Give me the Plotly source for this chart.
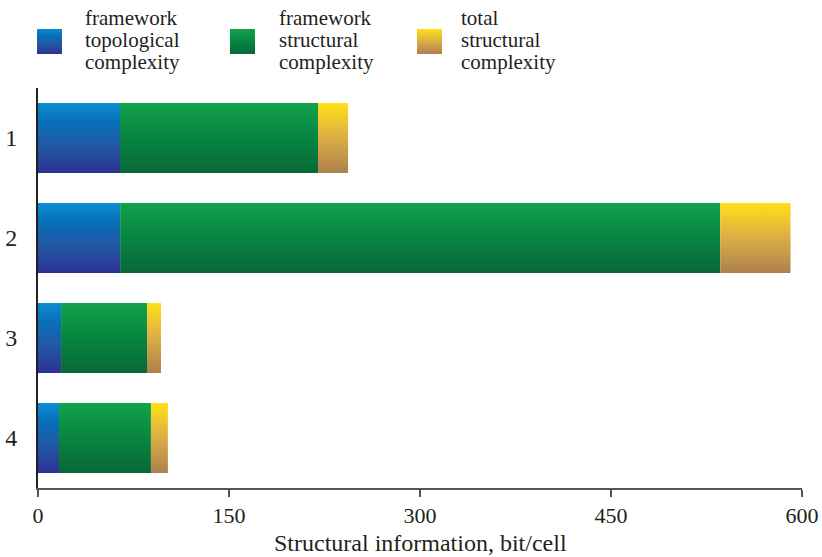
import plotly.graph_objects as go

# Sample labels (top to bottom) and cumulative bar ends, bit/cell
samples = ["1", "2", "3", "4"]
topological = [64.4, 64.5, 18.1, 16.5]
framework_structural = [219.9, 535.8, 85.6, 88.7]
total_structural = [243.5, 591.0, 96.6, 102.0]

x_ticks = [0, 150, 300, 450, 600]
legend_labels = [
    ["framework", "topological", "complexity"],
    ["framework", "structural", "complexity"],
    ["total", "structural", "complexity"],
]

W, H = 822, 557
FONT = "Liberation Serif"
TEXT = "#231f20"

# vertical gradients (top colour -> bottom colour)
grad_blue = [[0, "#0c8dd2"], [0.25, "#0671b9"], [0.6, "#2159a6"], [1, "#2e3192"]]
grad_green = [[0, "#12a24b"], [0.55, "#078240"], [1, "#086838"]]
grad_gold = [[0, "#ffe116"], [0.45, "#dfb243"], [1, "#ae804e"]]
gradients = [grad_blue, grad_green, grad_gold]

# plot area in pixels
px_left, px_right, px_top, px_bottom = 38, 802, 88, 488
bar_half = 0.35

fig = go.Figure()

for i in range(len(samples)):
    starts = [0, topological[i], framework_structural[i]]
    ends = [topological[i], framework_structural[i], total_structural[i]]
    for k in range(3):
        x0, x1 = starts[k], ends[k]
        y0, y1 = i - bar_half, i + bar_half
        fig.add_trace(go.Scatter(
            x=[x0, x1, x1, x0, x0], y=[y0, y0, y1, y1, y0],
            mode="lines", line=dict(width=0), fill="toself",
            fillgradient=dict(type="vertical", colorscale=gradients[k],
                              start=y0, stop=y1),
            hoverinfo="skip", showlegend=False, xaxis="x", yaxis="y",
        ))

# legend swatches, drawn on a pixel-space overlay axis
swatch_x = [37, 230, 417]
text_x = [83, 277, 459]
sw_top, sw_bot, sw_w = 29, 54, 25
for k in range(3):
    x0 = swatch_x[k]
    x1 = x0 + sw_w
    fig.add_trace(go.Scatter(
        x=[x0, x1, x1, x0, x0], y=[sw_top, sw_top, sw_bot, sw_bot, sw_top],
        mode="lines", line=dict(width=0), fill="toself",
        fillgradient=dict(type="vertical", colorscale=gradients[k],
                          start=sw_top, stop=sw_bot),
        hoverinfo="skip", showlegend=False, xaxis="x2", yaxis="y2",
    ))

annotations = []
line_y = [18, 40, 62]
for k in range(3):
    for j, txt in enumerate(legend_labels[k]):
        annotations.append(dict(
            text=txt, xref="paper", yref="paper",
            x=text_x[k] / W, y=1 - line_y[j] / H,
            xanchor="left", yanchor="middle", showarrow=False,
            font=dict(family=FONT, size=21, color=TEXT),
        ))

annotations.append(dict(
    text="Structural information, bit/cell", xref="paper", yref="paper",
    x=(px_left + px_right) / 2 / W, y=0,
    xanchor="center", yanchor="bottom", showarrow=False, borderpad=0,
    font=dict(family=FONT, size=24, color=TEXT),
))

fig.update_layout(
    width=W, height=H,
    margin=dict(l=0, r=0, t=0, b=0),
    paper_bgcolor="white", plot_bgcolor="rgba(0,0,0,0)",
    showlegend=False,
    annotations=annotations,
    xaxis=dict(
        domain=[px_left / W, px_right / W], anchor="y",
        range=[0, 600], tickvals=x_ticks, ticktext=[str(v) for v in x_ticks],
        showgrid=False, zeroline=False,
        showline=True, linecolor="#555555", linewidth=2,
        ticks="outside", ticklen=7, tickwidth=1.5, tickcolor="#555555",
        tickfont=dict(family=FONT, size=22, color=TEXT),
        automargin=False, fixedrange=True,
    ),
    yaxis=dict(
        domain=[1 - px_bottom / H, 1 - px_top / H], anchor="x",
        range=[len(samples) - 0.5, -0.5],
        tickvals=list(range(len(samples))), ticktext=samples,
        showgrid=False, zeroline=False,
        showline=True, linecolor="#231f20", linewidth=2,
        ticks="", ticklabelstandoff=14,
        tickfont=dict(family=FONT, size=24, color=TEXT),
        automargin=False, fixedrange=True,
    ),
    xaxis2=dict(domain=[0, 1], range=[0, W], visible=False, anchor="y2",
                fixedrange=True),
    yaxis2=dict(domain=[0, 1], range=[H, 0], visible=False, anchor="x2",
                fixedrange=True),
)

fig.write_html("out.html")
